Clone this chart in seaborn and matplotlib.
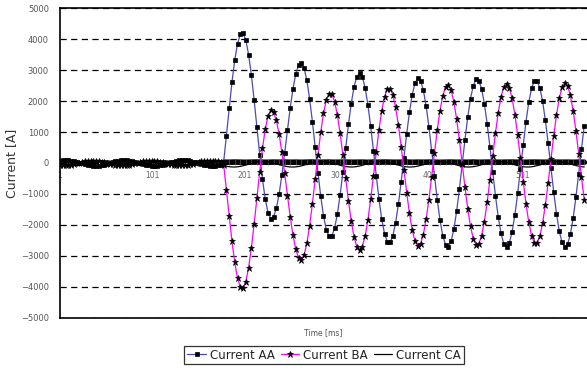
import matplotlib
matplotlib.use("Agg")
import matplotlib.pyplot as plt
import pandas as pd
import seaborn as sns

# sample index (category axis) - one point every 3 samples
time_ms = list(range(1, 569, 3))

current_aa = [
    73, 85, 90, 87, 76, 59, 37, 11, -16, -41, -63, -79, -88, -90, -83, -70, -50, -26, 0, 26,
    50, 70, 83, 90, 88, 79, 63, 41, 16, -11, -37, -59, -76, -87, -90, -85, -73, -54, -31, -5,
    22, 46, 67, 82, 89, 89, 81, 66, 45, 20, -6, -32, -55, -74, -86, -90, -86, -76, -58,
    27, 885, 1773, 2607, 3321, 3849, 4146, 4185,
    3963, 3498, 2835, 2028, 1149, 273, -522, -1164, -1602, -1794,
    -1735, -1463, -1000, -387, 323, 1065, 1779, 2398, 2870, 3155, 3227,
    3061, 2665, 2072, 1336, 518, -308, -1069, -1702, -2148, -2370, -2350,
    -2102, -1647, -1028, -295, 485, 1247, 1919, 2448, 2784, 2900,
    2779, 2431, 1883, 1188, 398, -410, -1169, -1810, -2281, -2539, -2561,
    -2351, -1928, -1330, -609, 173, 947, 1644, 2205, 2580, 2737,
    2658, 2350, 1838, 1168, 394, -410, -1179, -1843, -2345, -2639, -2705,
    -2531, -2135, -1556, -837, -46, 748, 1477, 2076, 2496, 2696,
    2661, 2393, 1916, 1271, 518, -285, -1060, -1743, -2274, -2604, -2710,
    -2578, -2222, -1675, -980, -204, 591, 1333, 1955, 2408, 2648, 2653,
    2427, 1987, 1373, 637, -155, -937, -1637, -2195, -2564, -2707,
    -2618, -2300, -1783, -1112, -344, 454, 1209,
]

current_ba = [
    -76, -80, -77, -68, -52, -33, -10, 14, 36, 56, 70, 78, 80, 74, 62, 45, 23, 0, -23, -45,
    -62, -74, -80, -78, -70, -56, -36, -14, 10, 33, 52, 68, 77, 80, 76, 65, 48, 27, 4, -19,
    -41, -59, -72, -79, -79, -72, -58, -40, -18, 6, 29, 49, 66, 76, 80, 77, 67, 51, 31,
    -51, -873, -1724, -2523, -3208, -3714, -3998, -4036,
    -3823, -3377, -2742, -1969, -1126, -287, 475, 1091, 1510, 1694,
    1637, 1376, 932, 343, -338, -1051, -1737, -2331, -2785, -3058, -3128,
    -2968, -2588, -2020, -1314, -529, 263, 993, 1600, 2028, 2241, 2220,
    1984, 1548, 954, 252, -496, -1226, -1870, -2377, -2698, -2810,
    -2695, -2363, -1840, -1176, -423, 349, 1073, 1685, 2135, 2381, 2402,
    2201, 1795, 1222, 530, -219, -961, -1629, -2167, -2527, -2677,
    -2602, -2308, -1819, -1180, -441, 326, 1059, 1693, 2172, 2452, 2515,
    2349, 1972, 1419, 734, -21, -778, -1474, -2045, -2446, -2637,
    -2603, -2346, -1888, -1269, -547, 223, 967, 1622, 2131, 2449, 2550,
    2424, 2084, 1561, 897, 155, -604, -1313, -1907, -2340, -2569, -2574,
    -2357, -1934, -1344, -637, 125, 876, 1549, 2085, 2440, 2577,
    2492, 2186, 1689, 1044, 306, -461, -1186,
]

current_ca = [
    9, -12, -32, -49, -61, -68, -70, -65, -54, -39, -20, 0, 20, 39, 54, 65, 70, 68, 61, 49,
    32, 12, -9, -28, -46, -59, -68, -70, -66, -57, -42, -24, -4, 17, 36, 52, 63, 69, 69, 63,
    51, 35, 16, -5, -25, -43, -57, -67, -70, -67, -59, -45, -27, -7, 13, 33, 49, 62, 69,
    -82, -104, -119, -128, -130, -123, -109, -89, -65, -38,
    -12, 12, 31, 44, 50, 48, 38, 21, -1, -26,
    -53, -78, -100, -117, -127, -130, -125, -112, -93, -69,
    -43, -17, 8, 28, 42, 49, 49, 40, 25, 4,
    -21, -48, -74, -97, -115, -126, -130, -126, -115, -97,
    -74, -48, -21, 4, 25, 40, 49, 49, 42, 28,
    8, -17, -43, -69, -93, -112, -125, -130, -127, -117,
    -100, -78, -53, -26, -1, 21, 38, 48, 50, 44,
    31, 12, -12, -38, -65, -89, -109, -123, -130, -128,
    -119, -104, -82, -57, -31, -5, 18, 36, 46, 50,
    46, 34, 15, -8, -34, -60, -85, -106, -121, -129,
    -129, -122, -107, -86, -62, -35, -9, 14, 33, 45,
    50, 47, 36, 19, -3, -29, -56, -81, -103, -119, -128,
]

# flat band of samples around zero after the fault (not in the legend)
band_time = list(range(178, 569, 6))
band_level = [
    28, 24, 30, 26, 22, 27, 31, 25, 23, 29, 26, 30, 24, 27, 22, 28, 31, 25, 26, 29,
    23, 27, 30, 24, 26, 28, 22, 29, 25, 31, 27, 24, 26, 30, 23, 28, 25, 29, 27, 22,
    26, 30, 24, 28, 25, 31, 23, 27, 29, 26, 24, 28, 30, 25, 22, 27, 29, 26, 24, 31,
    28, 25, 27, 23, 29, 26,
]

y_ticks = [-5000, -4000, -3000, -2000, -1000, 0, 1000, 2000, 3000, 4000, 5000]
x_tick_pos = [1, 101, 201, 301, 401, 501]
x_tick_labels = ["1", "101", "201", "301", "401", "501"]

df = pd.DataFrame({"Time": time_ms, "AA": current_aa, "BA": current_ba, "CA": current_ca})
band = pd.DataFrame({"Time": band_time, "Level": band_level})

sns.set_style("white")
plt.rcParams["font.family"] = ["DejaVu Sans"]

fig = plt.figure(figsize=(5.87, 3.71), dpi=100)
ax = fig.add_axes([0.1022, 0.1429, 0.8978, 0.8355])

sns.lineplot(data=band, x="Time", y="Level", ax=ax, color="black", linewidth=4.0,
             marker="|", markersize=4.5, markeredgecolor="#5a5a5a", markeredgewidth=0.5,
             label="_band")
sns.lineplot(data=df, x="Time", y="CA", ax=ax, color="black", linewidth=0.9,
             label="Current CA")
sns.lineplot(data=df, x="Time", y="AA", ax=ax, color="#4a4ab8", linewidth=0.9,
             marker="s", markersize=3.0, markerfacecolor="black", markeredgecolor="black",
             markeredgewidth=0.5, label="Current AA")
sns.lineplot(data=df, x="Time", y="BA", ax=ax, color="#ff00ff", linewidth=0.9,
             marker="*", markersize=4.6, markerfacecolor="black", markeredgecolor="black",
             markeredgewidth=0.5, label="Current BA")

if ax.get_legend():
    ax.get_legend().remove()

ax.set_xlim(1, 571)
ax.set_ylim(-5000, 5000)
ax.set_yticks(y_ticks)
ax.set_xticks([])
ax.yaxis.grid(True, color="black", linestyle=(0, (5, 3.5)), linewidth=0.9)
ax.xaxis.grid(False)
ax.tick_params(axis="y", length=0, pad=8, labelsize=6, labelcolor="#555555")

for side in ["left", "top", "bottom"]:
    ax.spines[side].set_color("black")
    ax.spines[side].set_linewidth(1.2)
ax.spines["right"].set_visible(False)

ax.set_ylabel("Current [A]", fontsize=9, color="#333333")
ax.yaxis.set_label_coords(-0.08, 0.5)
ax.set_xlabel("Time [ms]", fontsize=5.5, color="#555555", labelpad=7)

# category labels sit on the zero line, like the spreadsheet axis
sec = ax.secondary_xaxis(0.5)
sec.set_alignment("bottom")
sec.set_xticks(x_tick_pos, labels=x_tick_labels)
sec.tick_params(length=0, pad=6, labelsize=5.5, labelcolor="#666666")
for side in ["top", "bottom"]:
    sec.spines[side].set_visible(False)

handles, labels = ax.get_legend_handles_labels()
order = [labels.index(n) for n in ["Current AA", "Current BA", "Current CA"]]
leg = fig.legend([handles[i] for i in order], [labels[i] for i in order],
                 loc="center", bbox_to_anchor=(0.552, 0.043), ncol=3, fontsize=8.5,
                 frameon=True, fancybox=False, handlelength=1.6, handletextpad=0.3,
                 columnspacing=0.5, borderpad=0.25, labelcolor="#222222")
leg.get_frame().set_edgecolor("black")
leg.get_frame().set_linewidth(0.9)

fig.savefig("out.png", dpi=100)
